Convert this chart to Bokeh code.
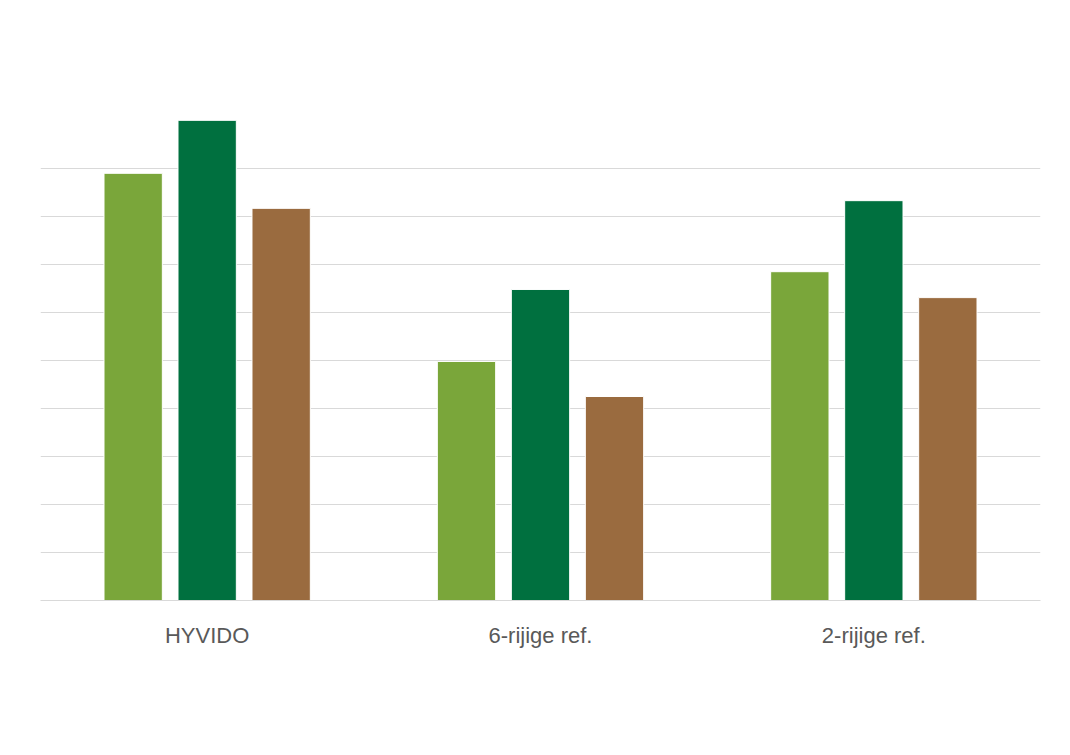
from bokeh.plotting import figure
from bokeh.models import ColumnDataSource, Legend, LegendItem, FixedTicker, Range1d, Label
from bokeh.embed import file_html
from bokeh.resources import INLINE

categories = ["HYVIDO", "6-rijige ref.", "2-rijige ref."]
series = ["vroege zaai (19/09)", "normale zaai (30/09)", "late zaai (22/10)"]
vroege = [8.9, 4.98, 6.85]
normale = [10.0, 6.48, 8.33]
late = [8.17, 4.25, 6.31]
colors = ["#7AA63A", "#00703F", "#9A6B3F"]

p = figure(width=1054, height=739, output_backend="svg", toolbar_location=None,
           x_range=Range1d(0, 3), y_range=Range1d(0, 10),
           min_border_left=40, min_border_right=14, min_border_top=120,
           min_border_bottom=139)

centers = [i + 0.5 for i in range(len(categories))]
offsets = [-0.222, 0.0, 0.222]
items = []
for vals, off, col, name in zip([vroege, normale, late], offsets, colors, series):
    src = ColumnDataSource(dict(x=[c + off for c in centers], top=vals))
    r = p.vbar(x="x", top="top", width=0.175, bottom=0, source=src,
               fill_color=col, line_color="white", line_width=1)
    items.append(LegendItem(label=name, renderers=[r]))

p.yaxis.visible = False
p.ygrid.ticker = FixedTicker(ticks=list(range(0, 11)))
p.ygrid.grid_line_color = "#d9d9d9"
p.xgrid.visible = False
p.xaxis.ticker = FixedTicker(ticks=centers)
p.xaxis.major_label_overrides = {c: n for c, n in zip(centers, categories)}
p.xaxis.major_label_text_font = "Arial"
p.xaxis.major_label_text_font_size = "22px"
p.xaxis.major_label_text_color = "#595959"
p.xaxis.major_label_standoff = 16
p.xaxis.major_tick_line_color = None
p.xaxis.minor_tick_line_color = None
p.xaxis.axis_line_color = "#d9d9d9"
p.outline_line_color = None

title = Label(x=-6, y=573, x_units="screen", y_units="screen",
              text="Relatieve opbrengst - Proeven LKW 2020", text_font="Arial",
              text_font_size="30px", text_color="#404040", text_baseline="middle")
p.add_layout(title)

legend = Legend(items=items, orientation="horizontal", location=(38, -102),
                label_text_font="Arial", label_text_font_size="22px",
                label_text_color="#595959", glyph_width=30, glyph_height=30,
                spacing=16, label_standoff=4, border_line_color=None,
                background_fill_alpha=0, margin=0, padding=2)
p.add_layout(legend, "center")

open("out.html", "w").write(file_html(p, INLINE))
